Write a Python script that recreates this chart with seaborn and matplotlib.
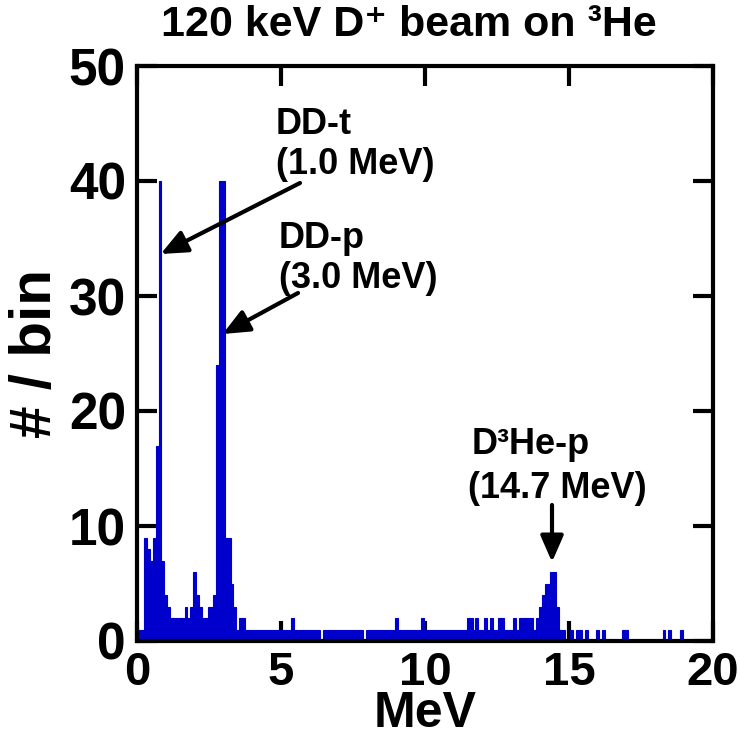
import numpy as np
import pandas as pd
import matplotlib
matplotlib.use("Agg")
import matplotlib.pyplot as plt
import seaborn as sns

# ---------------- data (counts per 0.1 MeV bin, bin centres 0.0, 0.1, ... 19.9 MeV) -------------
bin_width = 0.1
counts = [
    1, 1, 1, 9, 8, 7, 9, 17, 40, 7, 4, 3, 2, 2, 2, 2, 2, 3, 2, 3,          # 0.0 - 1.9
    6, 4, 3, 2, 2, 3, 3, 4, 24, 40, 40, 9, 9, 5, 3, 1, 2, 2, 1, 1,         # 2.0 - 3.9
    1, 1, 1, 1, 1, 1, 1, 1, 1, 1, 1, 1, 1, 1, 2, 1, 1, 1, 1, 1,            # 4.0 - 5.9
    1, 1, 1, 1, 0, 1, 1, 1, 1, 1, 1, 1, 1, 1, 1, 1, 1, 1, 1, 0,            # 6.0 - 7.9
    1, 1, 1, 1, 1, 1, 1, 1, 1, 1, 2, 1, 1, 1, 1, 1, 1, 1, 1, 2,            # 8.0 - 9.9
    1, 1, 1, 1, 1, 1, 1, 1, 1, 1, 1, 1, 1, 1, 1, 2, 2, 1, 2, 1,            # 10.0 - 11.9
    1, 2, 1, 2, 1, 1, 2, 2, 1, 1, 1, 2, 1, 2, 2, 2, 2, 2, 1, 2,            # 12.0 - 13.9
    3, 4, 5, 5, 6, 6, 3, 1, 1, 0, 0, 1, 0, 1, 1, 0, 1, 0, 0, 0,            # 14.0 - 15.9
    1, 0, 1, 0, 0, 0, 0, 0, 0, 1, 1, 0, 0, 0, 0, 0, 0, 0, 0, 0,            # 16.0 - 17.9
    0, 0, 0, 1, 0, 1, 0, 0, 0, 1, 0, 0, 0, 0, 0, 0, 0, 0, 0, 0,            # 18.0 - 19.9
]
x_ticks = [0, 5, 10, 15, 20]
y_ticks = [0, 10, 20, 30, 40, 50]
peak_labels = ["DD-t", "(1.0 MeV)", "DD-p", "(3.0 MeV)", "D³He-p", "(14.7 MeV)"]
title = "120 keV D⁺ beam on ³He"

df = pd.DataFrame({"energy": np.arange(len(counts)) * bin_width,
                   "counts": np.asarray(counts, dtype=float)})

# ---------------- style ----------------
sns.set_style("ticks")
plt.rcParams["font.family"] = ["Liberation Sans", "DejaVu Sans"]
plt.rcParams["font.weight"] = "bold"
for key in ["text.color", "axes.labelcolor", "xtick.color", "ytick.color",
            "axes.edgecolor"]:
    plt.rcParams[key] = "black"

blue = "#0000CD"

fig = plt.figure(figsize=(7.4, 7.37), dpi=100)
ax = fig.add_axes([137 / 740, 1 - 641 / 737, 576 / 740, 575 / 737])

sns.histplot(data=df, x="energy", weights="counts", bins=len(counts),
             binrange=(-bin_width / 2, len(counts) * bin_width - bin_width / 2),
             color=blue, edgecolor=blue, linewidth=0.8, alpha=1, ax=ax)

ax.set_xlim(0, 20)
ax.set_ylim(0, 50)
ax.set_xticks(x_ticks)
ax.set_yticks(y_ticks)
ax.tick_params(direction="in", length=14.5, width=3, top=True, right=True,
               colors="black")
ax.tick_params(axis="y", pad=8, labelsize=37)
ax.tick_params(axis="x", pad=7, labelsize=34)
for sp in ax.spines.values():
    sp.set_linewidth(3)
    sp.set_color("black")
    sp.set_visible(True)

ax.set_xlabel("MeV", fontsize=36, fontweight="bold", labelpad=-3)
ax.set_ylabel("# / bin", fontsize=42, fontweight="bold", labelpad=4)

fig.text(409 / 740, 1 - 25 / 737, title, fontsize=31, fontweight="bold",
         family=["Liberation Sans Narrow", "Liberation Sans", "DejaVu Sans"],
         ha="center", va="center")

# ---------------- annotations ----------------
def px2d(px, py):
    return ((px - 137) / 28.8, (641 - py) / 11.5)

text_pos = [(276, 124), (276, 165), (279, 238), (279, 279), (472, 445), (468, 488)]
for lab, (px, py) in zip(peak_labels, text_pos):
    tx, ty = px2d(px, py)
    ax.text(tx, ty, lab, fontsize=26, fontweight="bold", ha="left", va="center",
            clip_on=False)

arrows = [((300, 183), (160.7, 254)), ((298, 293), (222.7, 334)), ((552, 505), (552, 562))]
for start, tip in arrows:
    ax.annotate("", xy=px2d(*tip), xytext=px2d(*start),
                arrowprops=dict(arrowstyle="-|>,head_length=0.8,head_width=0.35",
                                mutation_scale=20, lw=3, color="black",
                                shrinkA=0, shrinkB=0))

fig.savefig("out.png", dpi=100)
